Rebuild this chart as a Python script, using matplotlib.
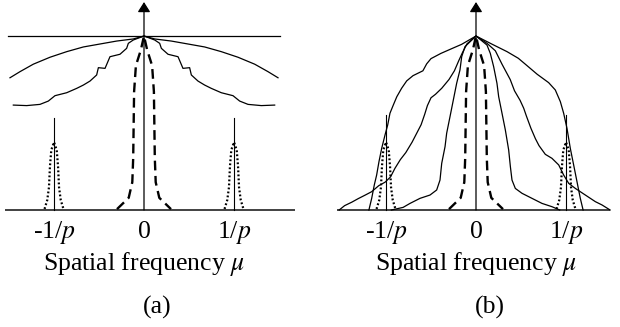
import numpy as np
import matplotlib
matplotlib.use("Agg")
import matplotlib.pyplot as plt

plt.rcParams['font.family'] = ['Liberation Serif', 'DejaVu Serif']
plt.rcParams['mathtext.fontset'] = 'stix'
plt.rcParams['lines.scale_dashes'] = False

# frequency axis, in units of 1/p
tick_pos = [-1, 0, 1]
tick_labels = ['-1/$p$', '0', '1/$p$']
xlabel = r'Spatial frequency $\mu$'
panel_labels = ['(a)', '(b)']

# central lobe (dashed), one side: offset from 0 and height
dash_dx = [0.0, 0.035, 0.09, 0.11, 0.115, 0.12, 0.13, 0.17, 0.27, 0.30]
dash_h = [1.0, 0.92, 0.83, 0.68, 0.49, 0.30, 0.16, 0.07, 0.02, 0.005]

# diffraction orders at +-1/p (dotted), one side
order_dx = [0.0, 0.03, 0.045, 0.056, 0.075, 0.105]
order_h = [0.39, 0.345, 0.25, 0.13, 0.057, 0.006]
order_stem_h = [0.53, 0.545]

# panel (a): flat response, smooth roll-off, rough roll-off (one side)
flat_h = 1.0
flat_half = 1.51
arc_dx = [0.0, 0.119, 0.303, 0.489, 0.674, 0.859, 1.044, 1.230, 1.378, 1.489]
arc_h = [1.0, 0.983, 0.971, 0.954, 0.937, 0.910, 0.878, 0.838, 0.795, 0.760]
rough_dx = [0.0, 0.119, 0.174, 0.193, 0.267, 0.378, 0.433, 0.507, 0.526,
            0.60, 0.674, 0.748, 0.859, 0.989, 1.063, 1.156, 1.304, 1.452]
rough_h = [1.0, 0.977, 0.958, 0.929, 0.895, 0.881, 0.814, 0.818, 0.776,
           0.741, 0.718, 0.699, 0.674, 0.657, 0.626, 0.607, 0.600, 0.603]

# panel (b): three rough bell-shaped spectra, left and right halves
wide_lx = [0.0, -0.16, -0.28, -0.39, -0.50, -0.548, -0.59, -0.70, -0.77, -0.826,
           -0.88, -0.919, -0.956, -0.981, -1.011, -1.048, -1.078, -1.104, -1.13,
           -1.159, -1.19]
wide_lh = [1.0, 0.952, 0.925, 0.90, 0.87, 0.84, 0.80, 0.772, 0.742, 0.70,
           0.651, 0.603, 0.556, 0.489, 0.431, 0.354, 0.278, 0.201, 0.144,
           0.067, 0.0]
wide_rx = [0.0, 0.178, 0.345, 0.47, 0.548, 0.68, 0.807, 0.881, 0.937, 0.974,
           1.011, 1.048, 1.085, 1.122, 1.159, 1.19]
wide_rh = [1.0, 0.953, 0.91, 0.872, 0.838, 0.78, 0.732, 0.690, 0.623, 0.556,
           0.469, 0.354, 0.259, 0.163, 0.067, 0.0]

mid_lx = [0.0, -0.10, -0.15, -0.19, -0.24, -0.30, -0.38, -0.45, -0.50, -0.54,
          -0.57, -0.61, -0.65, -0.71, -0.78, -0.84, -0.90, -0.95, -1.01, -1.08,
          -1.16, -1.23, -1.31, -1.38, -1.46, -1.52]
mid_lh = [1.0, 0.955, 0.905, 0.86, 0.80, 0.75, 0.70, 0.665, 0.645, 0.60,
          0.55, 0.49, 0.45, 0.39, 0.33, 0.29, 0.24, 0.19, 0.16, 0.14,
          0.105, 0.086, 0.065, 0.045, 0.025, 0.0]
mid_rx = [0.0, 0.122, 0.215, 0.289, 0.38, 0.428, 0.49, 0.53, 0.56, 0.61,
          0.66, 0.70, 0.77, 0.844, 0.919, 0.974, 1.03, 1.104, 1.215, 1.326,
          1.40, 1.49]
mid_rh = [1.0, 0.958, 0.915, 0.838, 0.75, 0.685, 0.63, 0.585, 0.54, 0.47,
          0.41, 0.37, 0.32, 0.297, 0.259, 0.201, 0.153, 0.124, 0.086, 0.048,
          0.029, 0.0]

narrow_lx = [0.0, -0.122, -0.159, -0.178, -0.215, -0.252, -0.289, -0.326,
             -0.344, -0.381, -0.40, -0.437, -0.511, -0.622, -0.733, -0.81, -0.94]
narrow_lh = [1.0, 0.939, 0.881, 0.805, 0.728, 0.632, 0.536, 0.441,
             0.364, 0.268, 0.172, 0.115, 0.086, 0.067, 0.038, 0.015, 0.0]
narrow_rx = [0.0, 0.122, 0.159, 0.196, 0.233, 0.252, 0.289, 0.326, 0.363,
             0.382, 0.40, 0.437, 0.511, 0.622, 0.733, 0.844, 0.93]
narrow_rh = [1.0, 0.948, 0.90, 0.824, 0.728, 0.651, 0.556, 0.46, 0.345,
             0.249, 0.172, 0.124, 0.096, 0.067, 0.038, 0.019, 0.0]

# horizontal extent of the frequency axis in each panel
axis_span = [(-1.544, 1.678), (-1.548, 1.489)]


def mirror(dx, h):
    dx = np.asarray(dx, float)
    h = np.asarray(h, float)
    return (np.concatenate([-dx[::-1], dx[1:]]),
            np.concatenate([h[::-1], h[1:]]))


def halves(lx, lh, rx, rh):
    return (np.concatenate([np.asarray(lx)[::-1], np.asarray(rx)[1:]]),
            np.concatenate([np.asarray(lh)[::-1], np.asarray(rh)[1:]]))


fig = plt.figure(figsize=(6.2, 3.27), dpi=100)
# pixel layout: 90 px per 1/p, 174 px per unit height, baseline at y=210
ax_a = fig.add_axes([0, 0, 0.5, 1])
ax_b = fig.add_axes([0.5, 0, 0.5, 1])
ax_a.set_xlim(-144 / 90, (310 - 144) / 90)
ax_b.set_xlim((310 - 476) / 90, (620 - 476) / 90)

for i, ax in enumerate([ax_a, ax_b]):
    ax.set_ylim((210 - 327) / 174, 210 / 174)
    ax.axis('off')

    # frequency axis and vertical arrow at zero
    ax.plot(axis_span[i], [0, 0], color='#333333', lw=1.3, solid_capstyle='butt')
    ax.annotate('', xy=(0, 1.195), xytext=(0, 0),
                arrowprops=dict(arrowstyle='-|>,head_length=0.6,head_width=0.38',
                                mutation_scale=10, shrinkA=0, shrinkB=0,
                                color='black', lw=0.9))

    # central lobe
    dx, dh = mirror(dash_dx, dash_h)
    ax.plot(dx, dh, color='black', lw=1.7, linestyle=(0, (7, 4)))

    # +-1/p orders with their stems
    ox, oh = mirror(order_dx, order_h)
    for k in (-1, 1):
        ax.plot(ox + k, oh, color='black', lw=1.6, linestyle=(0, (1.3, 1.6)))
        ax.plot([k, k], [0, order_stem_h[i]], color='black', lw=0.8)

    for pos, lab in zip(tick_pos, tick_labels):
        ax.text(pos, -0.16, lab, ha='center', va='baseline', fontsize=18.5)
    ax.text(0, -0.345, xlabel, ha='center', va='baseline', fontsize=18.5)
    ax.text(0.15, -0.595, panel_labels[i], ha='center', va='baseline', fontsize=18.5)

# panel (a) spectra
ax_a.plot([-flat_half, flat_half], [flat_h, flat_h], color='black', lw=0.9)
x, y = mirror(arc_dx, arc_h)
ax_a.plot(x, y, color='black', lw=0.9)
x, y = mirror(rough_dx, rough_h)
ax_a.plot(x, y, color='black', lw=0.9)

# panel (b) spectra
for lx, lh, rx, rh in [(wide_lx, wide_lh, wide_rx, wide_rh),
                       (mid_lx, mid_lh, mid_rx, mid_rh),
                       (narrow_lx, narrow_lh, narrow_rx, narrow_rh)]:
    x, y = halves(lx, lh, rx, rh)
    ax_b.plot(x, y, color='black', lw=0.9)

fig.savefig('out.png', dpi=100)
